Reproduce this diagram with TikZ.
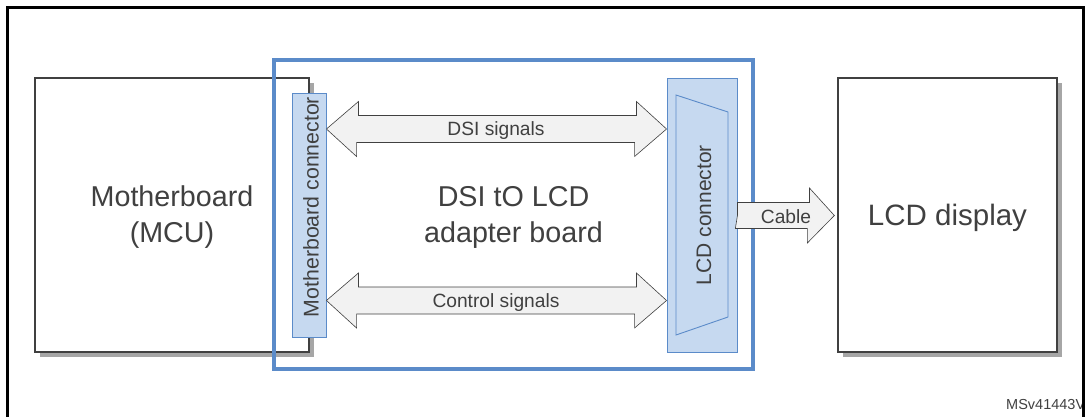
\documentclass[tikz,border=0pt]{standalone}
\usepackage{fontspec}
\setmainfont{Liberation Sans}
\usetikzlibrary{shadows,calc}
\definecolor{boardblue}{HTML}{5B8BC9}
\definecolor{connfill}{HTML}{C6D9F0}
\definecolor{txtgray}{HTML}{404040}
\definecolor{arrowfill}{HTML}{F2F2F2}
\definecolor{shadowgray}{HTML}{A6A6A6}

\begin{document}
\begin{tikzpicture}[x=1pt, y=-1pt,
        box/.style={rectangle, draw=txtgray, line width=1.3pt, fill=white, inner sep=0pt,
            text=txtgray, align=center,
            drop shadow={shadow xshift=5pt, shadow yshift=-5pt, fill=shadowgray, opacity=1}},
        conn/.style={rectangle, draw=boardblue, line width=0.9pt, fill=connfill, inner sep=0pt},
        sigarrow/.style={draw=txtgray, line width=0.6pt, fill=arrowfill, line join=miter},
        lbl/.style={text=txtgray, inner sep=0pt, align=center}
    ]
    \useasboundingbox (0,0) rectangle (1088,416);

    % boards
    \node[box, minimum width=274pt, minimum height=274pt] (mb) at (172,215) {};
    \node[lbl, font=\fontsize{28.7}{36}\selectfont] (mbtext) at (172,217) {Motherboard\\(MCU)};
    \node[box, minimum width=219pt, minimum height=274pt] (lcd) at (947.5,215) {};
    \node[lbl, font=\fontsize{29.5}{35}\selectfont] (lcdtext) at (947.5,218) {LCD display};

    \node[rectangle, draw=boardblue, line width=3.2pt, minimum width=479pt,
        minimum height=309pt, inner sep=0pt] (board) at (513.5,214.5) {};

    % connectors
    \node[conn, minimum width=34pt, minimum height=244pt] (mbconn) at (309,215) {};
    \node[conn, minimum width=70pt, minimum height=274pt] (lcdconn) at (702,215) {};
    \draw[boardblue, line width=0.9pt] (676,95) -- (728,112) -- (728,317) -- (676,335) -- cycle;

    \node[lbl, rotate=90, font=\fontsize{21.3}{25}\selectfont] (mbtxt) at (311,207) {Motherboard connector};
    \node[lbl, rotate=90, font=\fontsize{21}{25}\selectfont] (lcdtxt) at (704,215) {LCD connector};

    % signal arrows
    \coordinate (dsiL) at (mbconn.east |- 0,129);
    \coordinate (dsiR) at (lcdconn.west |- 0,129);
    \coordinate (ctlL) at (mbconn.east |- 0,300.5);
    \coordinate (ctlR) at (lcdconn.west |- 0,300.5);
    \coordinate (cabL) at (lcdconn.east |- 0,215.5);
    \coordinate (cabR) at (lcd.west |- 0,215.5);

    \draw[sigarrow] (dsiL) -- ++(32,-27.5) -- ++(0,14) -- ++(278,0) -- ++(0,-14)
        -- (dsiR) -- ++(-32,27.5) -- ++(0,-14) -- ++(-278,0) -- ++(0,14) -- cycle;
    \draw[sigarrow] (ctlL) -- ++(32,-27.5) -- ++(0,14) -- ++(278,0) -- ++(0,-14)
        -- (ctlR) -- ++(-32,27.5) -- ++(0,-14) -- ++(-278,0) -- ++(0,14) -- cycle;
    \draw[sigarrow] (cabL) -- ++(0,-13) -- ++(72,0) -- ++(0,-14.5) -- ($(cabR)+(-3,0)$)
        -- ++(-27,27.5) -- ++(0,-14.5) -- ++(-72,0) -- cycle;

    \node[lbl, font=\fontsize{19.2}{23}\selectfont] (dsi) at (496,131) {DSI signals};
    \node[lbl, font=\fontsize{19.2}{23}\selectfont] (ctl) at (496,302.5) {Control signals};
    \node[lbl, font=\fontsize{19.2}{23}\selectfont] (cab) at (786,217) {Cable};
    \node[lbl, font=\fontsize{28.7}{36}\selectfont] (boardtxt) at (513.5,217) {DSI tO LCD\\adapter board};

    % figure frame
    \node[lbl, anchor=base west, font=\fontsize{14.5}{17}\selectfont] (ref) at (1006,409) {MSv41443V};
    \draw[black, line width=3pt] (7.5,440) -- (7.5,7.5) -- (1083,7.5) -- (1083,440);
\end{tikzpicture}
\end{document}
